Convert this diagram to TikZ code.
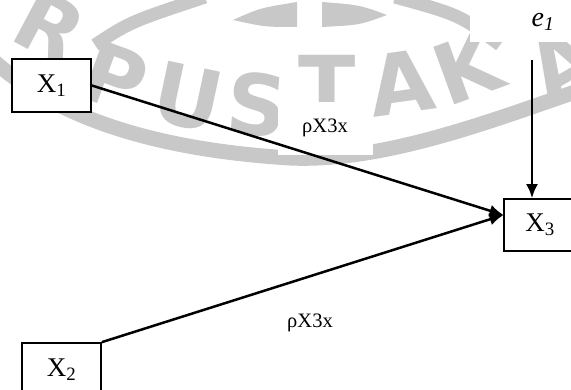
\documentclass[tikz,border=0pt]{standalone}
\usepackage{fontspec}
\setmainfont{Liberation Serif}
\newfontfamily\wmfont{DejaVu Sans}
\usetikzlibrary{arrows.meta}
\definecolor{wm}{RGB}{200,200,200}
\begin{document}
\begin{tikzpicture}[x=1pt,y=-1pt,
  box/.style={draw,line width=1.7pt,fill=white,minimum width=79pt,minimum height=53pt,inner sep=0pt,font=\fontsize{27}{30}\selectfont},
  arr/.style={line width=2.5pt,-{Latex[length=14pt,width=12pt]}},
  lbl/.style={inner sep=0pt,font=\fontsize{20.5}{24}\selectfont},
  wml/.style={inner sep=0pt,text=wm,font=\wmfont\bfseries\fontsize{84}{84}\selectfont},
  wmband/.style={draw=wm,line width=15pt}]
\useasboundingbox (0,0) rectangle (571,390);
\clip (0,0) rectangle (571,390);
% watermark
\draw[wmband] (-5,62) .. controls (60,120) and (160,150) .. (290,158) .. controls (380,162) and (480,125) .. (575,92);
\draw[wm,line width=13pt] (95,45) .. controls (130,22) .. (205,-3);
\draw[wm,line width=13pt] (395,-3) .. controls (460,15) .. (500,45);
\fill[wm] (233,20) .. controls (260,8) .. (297,2) -- (297,27) .. controls (265,27) .. (233,20) -- cycle;
\fill[wm] (322,2) .. controls (360,5) .. (387,15) .. controls (360,25) .. (322,27) -- cycle;
\node[wml,rotate=-28] (wR) at (50,27) {R};
\node[wml,rotate=-20] (wP) at (115,77) {P};
\node[wml,rotate=-12] (wU) at (188,97) {U};
\node[wml,rotate=-5] (wS) at (257,105) {S};
\node[wml,rotate=0] (wT) at (327,86) {T};
\node[wml,rotate=8] (wA) at (401,83) {A};
\node[wml,rotate=20] (wK) at (468,68) {K};
\node[wml,rotate=30] (wA2) at (562,64) {A};
% white text-box fills
\fill[white] (278,102) rectangle (373,155);
\fill[white] (470,-1) rectangle (572,42);
% diagram
\node[box] (X1) at (51.5,85.5) {X\textsubscript{1}};
\node[box] (X2) at (61.5,369.5) {X\textsubscript{2}};
\node[box,minimum width=72pt,minimum height=52pt] (X3) at (540,225) {X\textsubscript{3}};
\node[inner sep=0pt,font=\fontsize{28}{30}\selectfont] (e1) at (543,22) {\textit{e}\textsubscript{\textit{1}}};
\coordinate (etop) at (532,60);
\coordinate (tip) at (503.5,215);
\node[lbl] (l1) at (325,128) {ρX3x};
\node[lbl] (l2) at (310,323) {ρX3x};
\draw[arr] (etop) -- (etop |- X3.north);
\draw[arr] (X1.east) -- (tip);
\draw[arr] (X2.north east) -- (tip);
\end{tikzpicture}
\end{document}
